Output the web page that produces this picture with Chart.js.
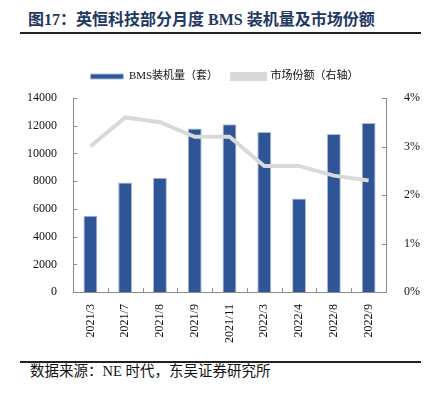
<!DOCTYPE html>
<html>
<head>
<meta charset="utf-8">
<script src="https://cdn.jsdelivr.net/npm/chart.js@4"></script>
<style>
  body { margin: 0; background: #fff; width: 431px; height: 398px; position: relative; overflow: hidden; }
  .title { position: absolute; left: 28px; top: 6px; font: bold 16px "Liberation Serif", "Noto Sans CJK SC"; color: #1F3864; white-space: nowrap; }
  .rule { position: absolute; left: 20px; width: 401px; height: 2px; background: #222; }
  .source { position: absolute; left: 30px; top: 359px; font: 14.5px "Liberation Serif", "Noto Sans CJK SC"; color: #111; white-space: nowrap; }
  .box { position: absolute; left: 0; top: 57px; width: 431px; height: 290px; }
</style>
</head>
<body>
<div class="title">图17：英恒科技部分月度 BMS 装机量及市场份额</div>
<div class="rule" style="top:32px"></div>
<div class="box"><canvas id="myChart"></canvas></div>
<div class="rule" style="top:361px;height:1.5px"></div>
<div class="source">数据来源：NE 时代，东吴证券研究所</div>
<script>
const labels = ["2021/3", "2021/7", "2021/8", "2021/9", "2021/11", "2022/3", "2022/4", "2022/8", "2022/9"];
const bmsInstalled = [5500, 7900, 8250, 11800, 12100, 11550, 6750, 11400, 12200];
const marketShare = [3.0, 3.6, 3.5, 3.2, 3.2, 2.6, 2.6, 2.4, 2.3];

const tickFont = { family: "'Liberation Serif', 'Noto Sans CJK SC'", size: 12 };

// inside ticks like the original
const innerTicks = {
  id: "innerTicks",
  afterDraw(chart) {
    const ctx = chart.ctx;
    const x = chart.scales.x, y = chart.scales.y, y1 = chart.scales.y1;
    ctx.save();
    ctx.strokeStyle = "#8c8c8c";
    ctx.lineWidth = 1;
    ctx.beginPath();
    const n = labels.length;
    for (let i = 1; i < n; i++) {
      const px = Math.round(x.left + (i * (x.right - x.left)) / n) + 0.5;
      ctx.moveTo(px, x.top);
      ctx.lineTo(px, x.top - 4);
    }
    y.ticks.forEach((t, i) => {
      const py = Math.round(y.getPixelForTick(i)) + 0.5;
      ctx.moveTo(y.right, py);
      ctx.lineTo(y.right + 4, py);
    });
    y1.ticks.forEach((t, i) => {
      const py = Math.round(y1.getPixelForTick(i)) + 0.5;
      ctx.moveTo(y1.left, py);
      ctx.lineTo(y1.left - 4, py);
    });
    ctx.stroke();
    ctx.restore();
  },
};

// a bit more space under the legend
const legendGap = {
  id: "legendGap",
  beforeInit(chart) {
    const fit = chart.legend.fit;
    chart.legend.fit = function () {
      fit.bind(chart.legend)();
      this.height += 6;
    };
  },
};

const data = {
  labels: labels,
  datasets: [
    {
      type: "line",
      label: "市场份额（右轴）",
      data: marketShare,
      yAxisID: "y1",
      borderColor: "#D9D9D9",
      backgroundColor: "#D9D9D9",
      borderWidth: 4,
      pointRadius: 0,
      tension: 0,
      order: 0,
    },
    {
      type: "bar",
      label: "BMS装机量（套）",
      data: bmsInstalled,
      yAxisID: "y",
      backgroundColor: "#2F5597",
      borderColor: "#A9BCE0",
      borderWidth: 1,
      barPercentage: 0.4,
      categoryPercentage: 1,
      order: 1,
    },
  ],
};

const config = {
  data: data,
  options: {
    responsive: true,
    maintainAspectRatio: false,
    animation: false,
    layout: { padding: { left: 19, right: 1, top: 0, bottom: 0 } },
    scales: {
      x: {
        offset: true,
        grid: { display: false },
        border: { color: "#8c8c8c" },
        ticks: { color: "#111", font: tickFont, maxRotation: 90, minRotation: 90, padding: 4 },
      },
      y: {
        position: "left",
        min: 0,
        max: 14000,
        grid: { display: false },
        border: { color: "#8c8c8c" },
        ticks: { stepSize: 2000, color: "#111", font: tickFont, padding: 8, callback: (v) => String(v) },
      },
      y1: {
        position: "right",
        min: 0,
        max: 4,
        grid: { display: false },
        border: { color: "#8c8c8c" },
        ticks: { stepSize: 1, color: "#111", font: tickFont, padding: 10, callback: (v) => v + "%" },
      },
    },
    plugins: {
      legend: {
        position: "top",
        reverse: true,
        labels: { boxWidth: 33, boxHeight: 5, color: "#111", font: { family: "'Liberation Serif', 'Noto Sans CJK SC'", size: 11 }, padding: 14 },
      },
      tooltip: { enabled: false },
    },
  },
  plugins: [innerTicks, legendGap],
};
const myChart = new Chart(document.getElementById("myChart"), config);
</script>
</body>
</html>
